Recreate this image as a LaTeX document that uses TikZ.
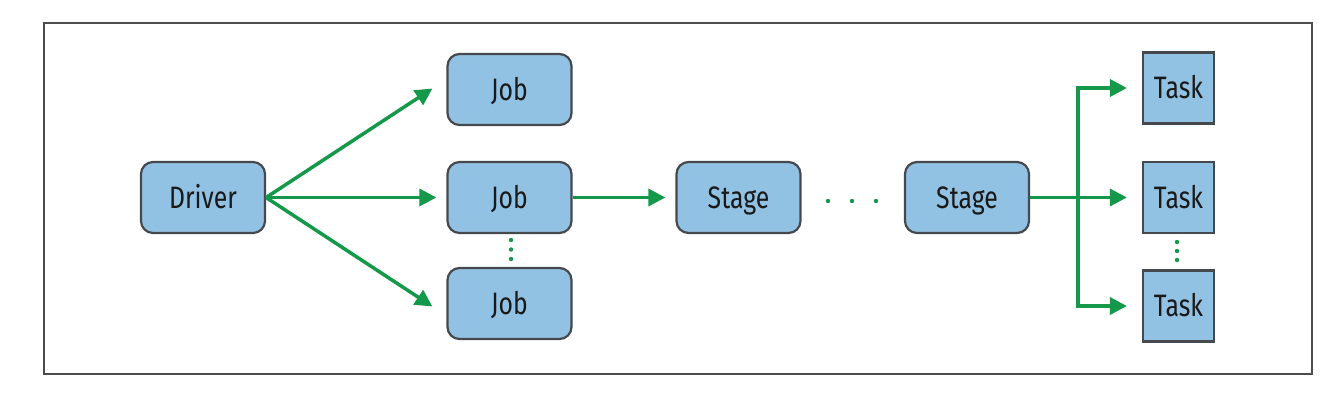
\documentclass[tikz,border=0pt]{standalone}
\usepackage{fontspec}
\setmainfont[FakeStretch=0.8]{Fira Sans}
\usetikzlibrary{arrows.meta}
\definecolor{boxfill}{HTML}{92C2E3}
\definecolor{boxline}{HTML}{45494E}
\definecolor{flow}{HTML}{14994A}
\tikzset{
  rbox/.style={draw=boxline, fill=boxfill, line width=2.2pt, rounded corners=12pt,
    minimum width=124pt, minimum height=71pt, inner sep=0pt,
    text height=21.4pt, text depth=0pt,
    font=\fontsize{31}{33}\selectfont, text=black!90},
  tbox/.style={draw=boxline, fill=boxfill, line width=2.2pt,
    minimum width=71pt, minimum height=71pt, inner sep=0pt,
    text height=21.4pt, text depth=0pt,
    font=\fontsize{31}{33}\selectfont, text=black!90},
  flowarrow/.style={draw=flow, line width=3.5pt, -{Triangle[length=17pt,width=17pt]}},
  flowline/.style={draw=flow, line width=3.5pt},
  dotmark/.style={fill=flow, circle, inner sep=0pt, minimum size=4.4pt},
}
\begin{document}
\begin{tikzpicture}[x=1pt, y=-1pt]
\useasboundingbox (0,0) rectangle (1332,400);
\draw[draw=black!70, line width=1.6pt] (44,23) rectangle (1312,374);

\node[rbox] (driver) at (203,197.5) {Driver};
\node[rbox] (job1) at (509.5,89.5) {Job};
\node[rbox] (job2) at (509.5,197.5) {Job};
\node[rbox] (job3) at (509.5,303.5) {Job};
\node[rbox] (stage1) at (738.5,197.5) {Stage};
\node[rbox] (stage2) at (967,197.5) {Stage};
\node[tbox] (task1) at (1178.5,88) {Task};
\node[tbox] (task2) at (1178.5,197.5) {Task};
\node[tbox] (task3) at (1178.5,306) {Task};

\coordinate (t1in) at ([xshift=-15pt]task1.west);
\coordinate (t2in) at ([xshift=-15pt]task2.west);
\coordinate (t3in) at ([xshift=-15pt]task3.west);

\draw[flowarrow] (driver.east) -- ([xshift=-14pt,yshift=1pt]job1.west);
\draw[flowarrow] (driver.east) -- ([xshift=-10pt]job2.west);
\draw[flowarrow] (driver.east) -- ([xshift=-14pt,yshift=-3pt]job3.west);
\draw[flowarrow] (job2.east) -- ([xshift=-10pt]stage1.west);

\coordinate (trunkt) at (1078,88);
\coordinate (trunkm) at (1078,197.5);
\coordinate (trunkb) at (1078,306);
\draw[flowline] (stage2.east) -- (trunkm);
\draw[flowline] ([yshift=-1.75pt]trunkt) -- ([yshift=1.75pt]trunkb);
\draw[flowarrow] ([xshift=-1.75pt]trunkt) -- (t1in);
\draw[flowarrow] (trunkm) -- (t2in);
\draw[flowarrow] ([xshift=-1.75pt]trunkb) -- (t3in);

\node[dotmark] (jd1) at (511,240) {};
\node[dotmark] (jd2) at (511,249.5) {};
\node[dotmark] (jd3) at (511,259) {};
\node[dotmark] (sd1) at (828,201) {};
\node[dotmark] (sd2) at (852,201) {};
\node[dotmark] (sd3) at (876,201) {};
\node[dotmark] (td1) at (1177,242) {};
\node[dotmark] (td2) at (1177,251) {};
\node[dotmark] (td3) at (1177,260) {};
\end{tikzpicture}
\end{document}
